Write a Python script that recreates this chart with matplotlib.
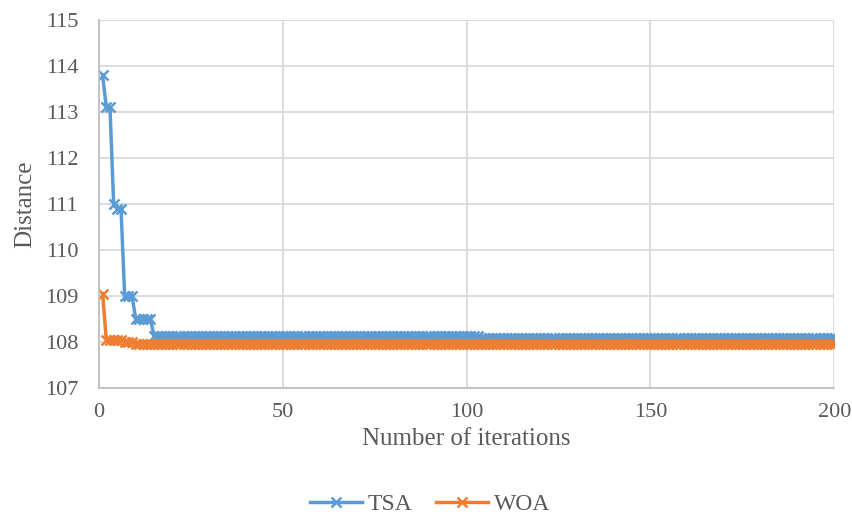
import numpy as np
import matplotlib.pyplot as plt

# stepwise convergence values (value, how many iterations)
tsa_levels = [113.8, 113.1, 111.0, 110.9, 109.0, 108.5, 108.12, 108.08]
tsa_counts = [1, 2, 1, 2, 3, 5, 89, 97]
woa_levels = [109.05, 108.05, 108.0, 107.96]
woa_counts = [1, 5, 3, 191]

iterations = np.arange(1, 201)
tsa = np.repeat(tsa_levels, tsa_counts)
woa = np.repeat(woa_levels, woa_counts)

plt.rcParams['font.family'] = ['Liberation Serif', 'DejaVu Serif']
txt = '#595959'
grid = '#D9D9D9'

fig = plt.figure(figsize=(8.53, 5.19), dpi=100)
ax = fig.add_axes([0.116, 0.2524, 0.862, 0.709])

ax.plot(iterations, tsa, color='#5B9BD5', lw=2.5, marker='x', ms=7, mew=1.8, label='TSA')
ax.plot(iterations, woa, color='#ED7D31', lw=2.5, marker='x', ms=7, mew=1.8, label='WOA')

ax.set_xlim(0, 200)
ax.set_ylim(107, 115)
ax.set_xticks([0, 50, 100, 150, 200])
ax.set_yticks(range(107, 116))
ax.grid(True, color=grid, lw=1.3)
ax.set_axisbelow(True)
for s in ['top', 'right']:
    ax.spines[s].set_visible(False)
ax.spines['left'].set_color('#BFBFBF')
ax.spines['bottom'].set_color('#BFBFBF')
ax.spines['left'].set_linewidth(1.3)
ax.spines['bottom'].set_linewidth(1.3)
ax.tick_params(length=0, labelsize=16, labelcolor=txt)
ax.tick_params(axis='y', pad=15)
ax.tick_params(axis='x', pad=11)

ax.set_xlabel('Number of iterations', fontsize=18, color=txt, labelpad=4)
ax.set_ylabel('Distance', fontsize=18, color=txt, labelpad=6)

fig.legend(loc='center', bbox_to_anchor=(0.504, 0.028), ncol=2, frameon=False,
           fontsize=17, handlelength=2.2, handletextpad=0.25, columnspacing=1.0,
           labelcolor=txt, borderpad=0)

fig.savefig('out.png', dpi=100)
